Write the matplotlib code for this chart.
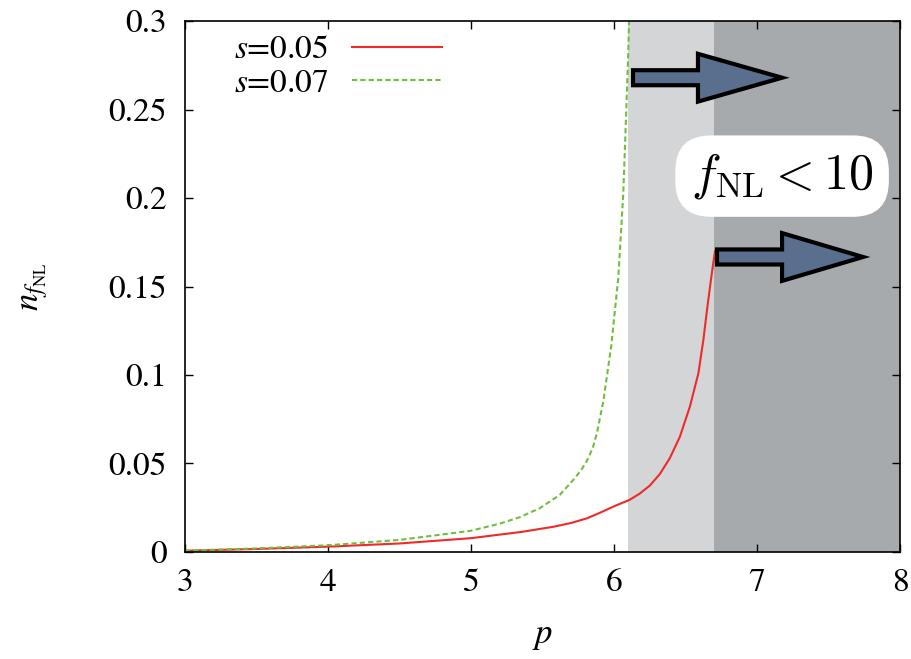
import numpy as np
import matplotlib
matplotlib.use('Agg')
import matplotlib.pyplot as plt
from matplotlib.patches import FancyArrow

plt.rcParams['font.family'] = ['STIXGeneral', 'DejaVu Serif']
plt.rcParams['mathtext.fontset'] = 'stix'

# curves
p_s05 = [3.0, 3.5, 4.0, 4.5, 5.0, 5.35, 5.58, 5.7, 5.81, 5.9, 6.0, 6.11,
         6.18, 6.25, 6.32, 6.39, 6.46, 6.53, 6.59, 6.625, 6.653, 6.683, 6.706]
n_s05 = [0.0007, 0.0017, 0.0030, 0.0048, 0.0078, 0.0113, 0.0143, 0.0164,
         0.0190, 0.0221, 0.0258, 0.0295, 0.0330, 0.0375, 0.0440, 0.0530,
         0.0650, 0.0820, 0.1010, 0.1200, 0.1386, 0.1570, 0.1700]

p_s07 = [3.0, 3.5, 4.0, 4.5, 5.0, 5.2, 5.34, 5.48, 5.62, 5.715, 5.77, 5.81,
         5.85, 5.88, 5.925, 5.98, 6.03, 6.065, 6.088, 6.1, 6.105]
n_s07 = [0.0008, 0.0020, 0.0038, 0.0068, 0.0120, 0.0160, 0.0196, 0.0247,
         0.0322, 0.0407, 0.0462, 0.0515, 0.0585, 0.0670, 0.0850, 0.1160,
         0.1550, 0.2030, 0.2550, 0.2830, 0.3000]

labels = ['$s$=0.05', '$s$=0.07']
light_band = [6.1, 6.7]
dark_band = [6.7, 8.0]

fig = plt.figure(figsize=(9.11, 6.59), dpi=100)
ax = fig.add_axes([0.203, 0.1624, 0.785, 0.8056])

ax.axvspan(light_band[0], light_band[1], color='#d4d5d7', lw=0, zorder=0)
ax.axvspan(dark_band[0], dark_band[1], color='#a7aaad', lw=0, zorder=0)

ax.plot(p_s05, n_s05, color='#ef2a2a', lw=1.5, label=labels[0], zorder=3)
ax.plot(p_s07, n_s07, color='#6fbf3f', lw=1.5, ls=(0, (2.5, 1.5)),
        label=labels[1], zorder=3)

# arrows
arrow_kw = dict(facecolor='#5a6f8e', edgecolor='black', lw=3,
                length_includes_head=True, zorder=5)
ax.add_patch(FancyArrow(6.133, 0.268, 1.042, 0, width=0.0085,
                        head_width=0.027, head_length=0.588, **arrow_kw))
ax.add_patch(FancyArrow(6.72, 0.1667, 1.021, 0, width=0.0085,
                        head_width=0.027, head_length=0.566, **arrow_kw))

ax.text(7.175, 0.2124, r'$f_{\rm NL} < 10$', fontsize=36,
        math_fontfamily='cm', ha='center', va='center', zorder=6,
        bbox=dict(boxstyle='round,pad=0.3,rounding_size=0.7',
                  fc='white', ec='white'))

ax.set_xlim(3, 8)
ax.set_ylim(0, 0.3)
ax.set_xticks([3, 4, 5, 6, 7, 8])
ax.set_yticks([0, 0.05, 0.1, 0.15, 0.2, 0.25, 0.3])
ax.set_yticklabels(['0', '0.05', '0.1', '0.15', '0.2', '0.25', '0.3'])
ax.tick_params(direction='in', length=6, width=1, top=True, right=True,
               labelsize=24)
ax.tick_params(axis='x', pad=12)
ax.tick_params(axis='y', pad=13)
for sp in ax.spines.values():
    sp.set_linewidth(1.2)
    sp.set_zorder(7)

ax.set_xlabel('$p$', fontsize=25, labelpad=16)
ax.set_ylabel(r'$n_{f_{\rm NL}}$', fontsize=25, labelpad=42)

ax.legend(loc='upper left', bbox_to_anchor=(0.036, 1.018), frameon=False,
          fontsize=24, markerfirst=False, handlelength=2.7,
          handletextpad=0.7, labelspacing=0.1, borderpad=0.2)

fig.savefig('out.png', dpi=100)
